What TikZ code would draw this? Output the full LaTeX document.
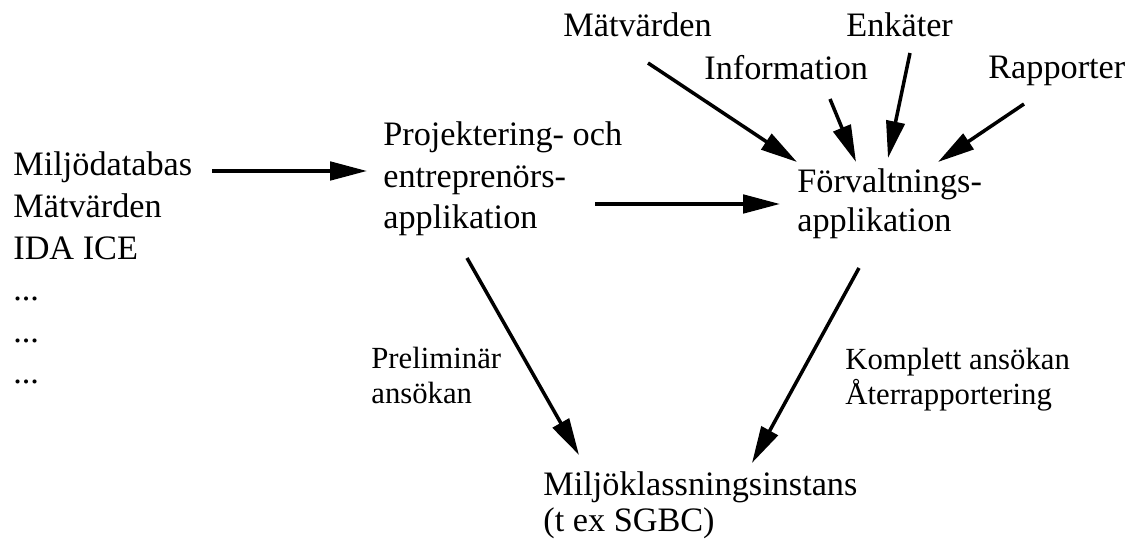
\documentclass[tikz,border=0pt]{standalone}
\usepackage{fontspec}
\setmainfont{Liberation Serif}
\usepackage{tikz}
\usetikzlibrary{arrows.meta}
\usetikzlibrary{calc}
\tikzset{
    txt/.style = {align=left, inner sep=0pt, anchor=base west, font=\fontsize{19.5}{23.7}\selectfont},
    lbl/.style = {txt, font=\fontsize{17.5}{20}\selectfont},
    arr/.style = {->, line width=2pt}
}

\begin{document}
\begin{tikzpicture}
            [x=0.02cm, y=-0.02cm,
            >={Triangle[length=21pt, width=10.5pt]}]

            \useasboundingbox (0,0) rectangle (1134,543);

            % sources on the left
            \node [txt] (src) at (13,384) {Miljödatabas\\Mätvärden\\IDA ICE\\...\\...\\...};

            % the two applications
            \node [txt] (proj) at (383,229) {Projektering- och\\entreprenörs-\\applikation};
            \node [txt, font=\fontsize{19.5}{22.2}\selectfont] (forv) at (797,232) {Förvaltnings-\\applikation};
            \node [txt, font=\fontsize{19.5}{21}\selectfont] (instans) at (543,532) {Miljöklassningsinstans\\(t ex SGBC)};

            % inputs at the top
            \node [txt] (matv) at (563,37) {Mätvärden};
            \node [txt] (info) at (704,80) {Information};
            \node [txt] (enk) at (846,37) {Enkäter};
            \node [txt] (rapp) at (988,79) {Rapporter};

            % edge labels
            \node [lbl] (prel) at (371,404) {Preliminär\\ansökan};
            \node [lbl] (kompl) at (845,405) {Komplett ansökan\\Återrapportering};

            \draw [arr] ($(src.base west)+(199,-213)$) -- ($(proj.base west)+(-16,-58)$);
            \draw [arr] ($(proj.base west)+(212,-25)$) -- ($(forv.base west)+(-17,-28)$);
            \draw [arr] ($(proj.base west)+(84,29)$) -- ($(instans.base west)+(36,-77)$);
            \draw [arr] ($(forv.base west)+(62,36)$) -- ($(instans.base west)+(209,-69)$);

            \draw [arr] ($(matv.base west)+(85,26)$) -- ($(forv.base west)+(0,-70)$);
            \draw [arr] ($(info.base west)+(126,19)$) -- ($(forv.base west)+(59,-70)$);
            \draw [arr] ($(enk.base west)+(64,16)$) -- ($(forv.base west)+(91,-74)$);
            \draw [arr] ($(rapp.base west)+(36,25)$) -- ($(forv.base west)+(141,-70)$);
\end{tikzpicture}
\end{document}
